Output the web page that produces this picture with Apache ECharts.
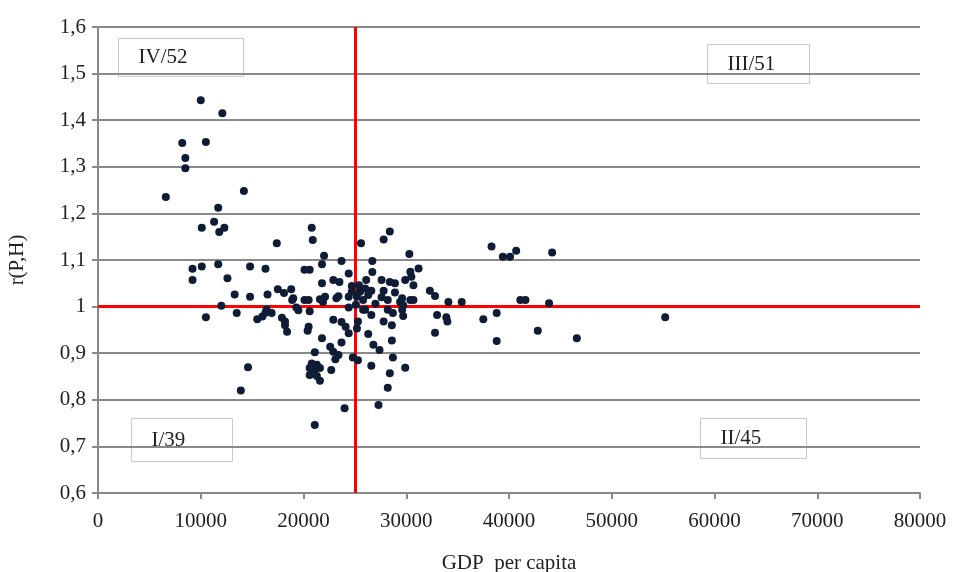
<!DOCTYPE html>
<html>
<head>
<meta charset="utf-8">
<title>r(P,H) / GDP per capita</title>
<script src="https://cdn.jsdelivr.net/npm/echarts@6/dist/echarts.min.js"></script>
<style>
	html, body { margin: 0; padding: 0; background: #fff; }
	#chart { width: 955px; height: 572px; }
</style>
</head>
<body>
<div id="chart"></div>
<script>
/*******************************/
/*数据部分: [GDP per capita, r(P,H)]*/
/*******************************/
// IV: GDP < 25000, r >= 1
var quadIV = [
	[6600, 1.235], [8200, 1.351], [8500, 1.319], [8500, 1.297], [10000, 1.443], [12100, 1.415],
	[10500, 1.353], [14200, 1.248], [11700, 1.212], [11300, 1.182], [10100, 1.169], [12300, 1.169],
	[11800, 1.160], [20800, 1.169], [20900, 1.143], [17400, 1.136], [22000, 1.109], [21800, 1.091],
	[23700, 1.098], [9200, 1.081], [10100, 1.086], [11700, 1.091], [14800, 1.086], [16300, 1.081],
	[9200, 1.057], [12600, 1.061], [13300, 1.026], [14800, 1.021], [16500, 1.026], [17500, 1.037],
	[18800, 1.037], [18100, 1.029], [18900, 1.014], [12000, 1.002], [19000, 1.018], [20100, 1.014],
	[20500, 1.014], [21600, 1.016], [22100, 1.021], [21900, 1.010], [23200, 1.018], [23400, 1.022],
	[24400, 1.021], [20100, 1.079], [20600, 1.079], [24400, 1.071], [21800, 1.050], [22900, 1.057],
	[23500, 1.053], [24700, 1.044], [24700, 1.032]
];
// III: GDP >= 25000, r >= 1
var quadIII = [
	[28400, 1.161], [27800, 1.144], [25600, 1.136], [30300, 1.113], [26700, 1.098], [26700, 1.074],
	[30400, 1.075], [31200, 1.082], [30500, 1.064], [29900, 1.057], [30700, 1.046], [27600, 1.057],
	[28400, 1.053], [28900, 1.050], [26100, 1.057], [25400, 1.046], [26000, 1.039], [25500, 1.032],
	[27800, 1.034], [27600, 1.020], [32300, 1.034], [32800, 1.023], [30400, 1.014], [30700, 1.014],
	[34100, 1.010], [29400, 1.010], [38300, 1.129], [39400, 1.107], [40100, 1.107], [40700, 1.120],
	[44200, 1.116], [41100, 1.014], [41600, 1.014], [43900, 1.007], [35400, 1.010], [28200, 1.014],
	[29600, 1.018], [29700, 1.003], [25200, 1.021], [25800, 1.014], [26600, 1.034], [26300, 1.025],
	[27000, 1.006], [28900, 1.030], [25100, 1.004]
];
// I: GDP < 25000, r < 1
var quadI = [
	[10500, 0.977], [13500, 0.986], [15500, 0.973], [16000, 0.979], [16900, 0.986], [16400, 0.994],
	[17900, 0.976], [19500, 0.992], [20600, 0.990], [19300, 0.998], [16300, 0.987], [18200, 0.968],
	[22900, 0.972], [23700, 0.967], [24100, 0.957], [24400, 0.998], [20500, 0.957], [14600, 0.870],
	[13900, 0.820], [18200, 0.960], [18400, 0.946], [20400, 0.948], [21800, 0.932], [24400, 0.943],
	[23700, 0.923], [22600, 0.914], [22900, 0.903], [23400, 0.896], [23100, 0.887], [21100, 0.902],
	[24800, 0.891], [20800, 0.878], [21300, 0.875], [21600, 0.868], [20600, 0.868], [21100, 0.864],
	[20600, 0.853], [21300, 0.851], [21600, 0.841], [22700, 0.864], [24000, 0.782], [21100, 0.746]
];
// II: GDP >= 25000, r < 1
var quadII = [
	[26000, 0.993], [26600, 0.982], [28200, 0.993], [28700, 0.986], [29600, 0.993], [29700, 0.980],
	[33000, 0.982], [33900, 0.977], [34000, 0.968], [27800, 0.968], [28600, 0.960], [25300, 0.968],
	[25200, 0.953], [26300, 0.941], [28600, 0.927], [32800, 0.944], [26800, 0.918], [27400, 0.907],
	[28700, 0.891], [25300, 0.885], [26600, 0.873], [29900, 0.869], [28400, 0.857], [28200, 0.826],
	[27300, 0.789], [25800, 0.993], [37500, 0.973], [38800, 0.986], [42800, 0.948], [38800, 0.926],
	[46600, 0.932], [55200, 0.977]
];
// 分界线
var gdpSplit = 25000;
var rSplit = 1;
// 象限标签
var quadLabels = ["IV/52", "III/51", "I/39", "II/45"];

/*******************************/
/*绘图部分*/
/*******************************/
var serif = '"Liberation Serif", "DejaVu Serif", serif';
var gridGray = '#8a8a8a';

function labelBox(x, y, w, h, text) {
	// 白底灰框的象限说明
	return {
		type: 'group',
		left: x,
		top: y,
		z: 50,
		children: [
			{ type: 'rect', shape: { x: 0, y: 0, width: w, height: h },
				style: { fill: '#fff', stroke: '#c9c9c9', lineWidth: 1 } },
			{ type: 'text', x: 20, y: h / 2,
				style: { text: text, font: '21px ' + serif, fill: '#222', verticalAlign: 'middle' } }
		]
	};
}

var myChart = echarts.init(document.getElementById('chart'));
var allPoints = quadIV.concat(quadIII, quadI, quadII);

myChart.setOption({
	animation: false,
	backgroundColor: '#fff',
	grid: { left: 98, right: 35, top: 27, bottom: 79, outerBoundsMode: 'none' },
	xAxis: {
		type: 'value',
		min: 0,
		max: 80000,
		interval: 10000,
		name: 'GDP  per capita',
		nameLocation: 'middle',
		nameGap: 60,
		nameTextStyle: { fontFamily: serif, fontSize: 21, color: '#222' },
		axisLine: { show: true, lineStyle: { color: gridGray, width: 2 } },
		axisTick: { show: true, length: 6, lineStyle: { color: gridGray, width: 2 } },
		axisLabel: {
			fontFamily: serif, fontSize: 21, color: '#222', margin: 18,
			formatter: function (v) { return String(v); }
		},
		splitLine: { show: false }
	},
	yAxis: {
		type: 'value',
		min: 0.6,
		max: 1.6,
		interval: 0.1,
		name: 'r(P,H)',
		nameLocation: 'middle',
		nameRotate: 90,
		nameGap: 70,
		nameTextStyle: { fontFamily: serif, fontSize: 21, color: '#222' },
		axisLine: { show: true, lineStyle: { color: gridGray, width: 2 } },
		axisTick: { show: true, length: 6, lineStyle: { color: gridGray, width: 2 } },
		axisLabel: {
			fontFamily: serif, fontSize: 21, color: '#222', margin: 12,
			formatter: function (v) { return String(Math.round(v * 10) / 10).replace('.', ','); }
		},
		splitLine: { show: true, lineStyle: { color: gridGray, width: 2 } }
	},
	series: [{
		type: 'scatter',
		data: allPoints,
		symbolSize: 8,
		itemStyle: { color: '#0f1c36', opacity: 1 },
		z: 3,
		markLine: {
			silent: true,
			symbol: 'none',
			label: { show: false },
			lineStyle: { color: '#ff0000', width: 3, type: 'solid' },
			data: [{ xAxis: gdpSplit }, { yAxis: rSplit }],
			z: 2
		}
	}],
	graphic: [
		labelBox(118, 38, 125, 38, quadLabels[0]),
		labelBox(707, 44, 102, 39, quadLabels[1]),
		labelBox(131, 418, 101, 43, quadLabels[2]),
		labelBox(700, 418, 106, 40, quadLabels[3])
	]
});
</script>
</body>
</html>
